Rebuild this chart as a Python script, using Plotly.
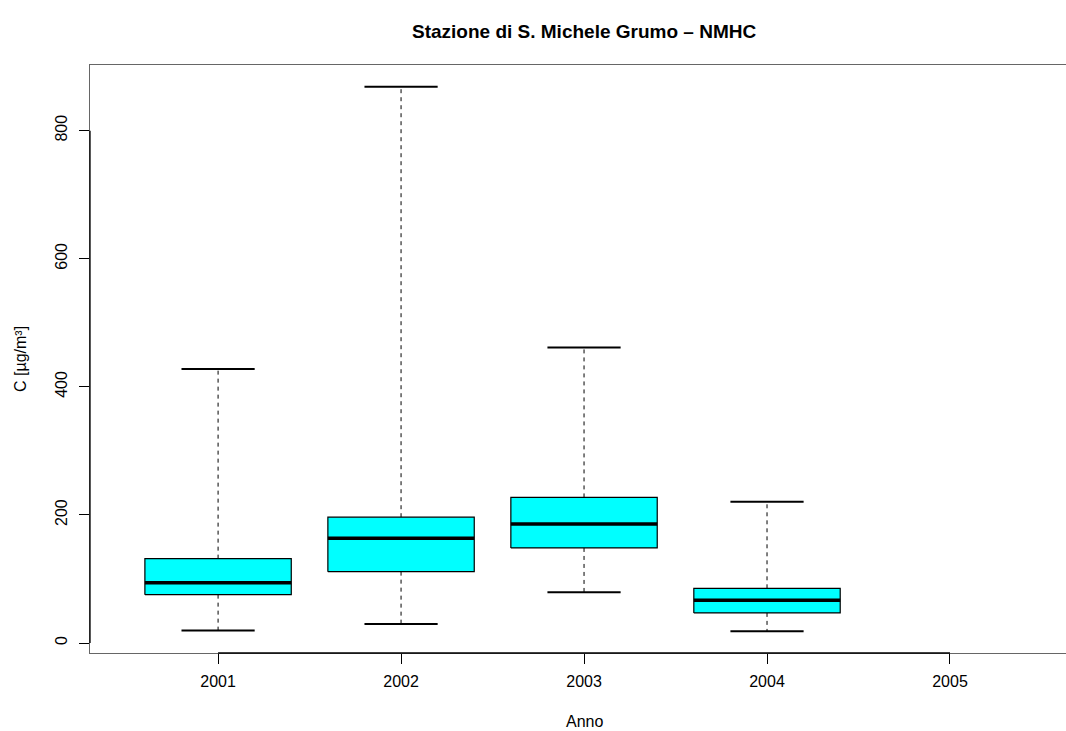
import plotly.graph_objects as go

# ---- data ----
years = ["2001", "2002", "2003", "2004", "2005"]
lower_whisker = [19.5, 29.6, 79.2, 18.4, None]
q1 = [75.6, 111.5, 148.5, 47.1, None]
median = [94.3, 163.7, 185.9, 66.7, None]
q3 = [131.8, 196.5, 227.4, 85.5, None]
upper_whisker = [428.0, 868.6, 461.3, 220.7, None]

title_text = "Stazione di S. Michele Grumo – NMHC"
x_title = "Anno"
y_title = "C [µg/m³]"
y_ticks = [0, 200, 400, 600, 800]

FONT = "Liberation Sans, Arial, Helvetica, sans-serif"
BOX_W = 0.8
CAP_W = 0.4

fig = go.Figure()
positions = list(range(1, len(years) + 1))

for pos, lo, a, m, b, hi in zip(positions, lower_whisker, q1, median, q3, upper_whisker):
    if m is None:
        continue
    # dashed whiskers
    fig.add_trace(go.Scatter(x=[pos, pos, None, pos, pos], y=[b, hi, None, a, lo],
                             mode="lines", line=dict(color="black", width=1, dash="4px,4px"),
                             hoverinfo="skip", showlegend=False))
    # caps
    fig.add_trace(go.Scatter(x=[pos - CAP_W / 2, pos + CAP_W / 2, None, pos - CAP_W / 2, pos + CAP_W / 2],
                             y=[hi, hi, None, lo, lo],
                             mode="lines", line=dict(color="black", width=2),
                             hoverinfo="skip", showlegend=False))
    # box
    fig.add_trace(go.Scatter(x=[pos - BOX_W / 2, pos + BOX_W / 2, pos + BOX_W / 2, pos - BOX_W / 2, pos - BOX_W / 2],
                             y=[a, a, b, b, a], mode="lines", fill="toself", fillcolor="#00FFFF",
                             line=dict(color="black", width=1.2),
                             hoverinfo="skip", showlegend=False))
    # median
    fig.add_trace(go.Scatter(x=[pos - BOX_W / 2, pos + BOX_W / 2], y=[m, m], mode="lines",
                             line=dict(color="black", width=3.5),
                             hoverinfo="skip", showlegend=False))

# axis segments (R axis lines from first to last tick)
fig.add_shape(type="line", xref="x", yref="paper", x0=positions[0], x1=positions[-1], y0=0, y1=0,
              line=dict(color="black", width=1.3))
fig.add_shape(type="line", xref="paper", yref="y", x0=0, x1=0, y0=y_ticks[0], y1=y_ticks[-1],
              line=dict(color="black", width=1.3))

fig.update_layout(
    width=1066, height=731,
    margin=dict(l=90, r=0, t=65, b=78),
    plot_bgcolor="white", paper_bgcolor="white",
    font=dict(family=FONT, size=16, color="black"),
    showlegend=False,
    xaxis=dict(range=[0.3, 5.634], tickmode="array", tickvals=positions, ticktext=years,
               showgrid=False, zeroline=False, showline=True, mirror=True,
               linecolor="#666666", linewidth=1.2,
               ticks="outside", ticklen=10, tickwidth=1, tickcolor="black",
               tickfont=dict(size=16, family=FONT), ticklabelstandoff=4),
    yaxis=dict(range=[-15.5, 902.5], tickmode="array", tickvals=y_ticks,
               ticktext=[str(v) for v in y_ticks],
               showgrid=False, zeroline=False, showline=True, mirror=False,
               linecolor="#666666", linewidth=1.2,
               ticks="outside", ticklen=10, tickwidth=1, tickcolor="black",
               tickangle=-90, tickfont=dict(size=16, family=FONT), ticklabelstandoff=6),
    annotations=[
        dict(text="<b>" + title_text + "</b>", xref="x", x=3, yref="paper", y=(653 - 31) / 588,
             xanchor="center", yanchor="middle", showarrow=False, font=dict(size=19, family=FONT)),
        dict(text=x_title, xref="x", x=3, yref="paper", y=(653 - 721) / 588,
             xanchor="center", yanchor="middle", showarrow=False, font=dict(size=16, family=FONT)),
        dict(text=y_title, xref="paper", x=(20 - 90) / 976, yref="paper", y=0.5, textangle=-90,
             xanchor="center", yanchor="middle", showarrow=False, font=dict(size=16, family=FONT)),
    ],
)

fig.write_html(
    "out.html",
    config={"displayModeBar": False},
    post_script="document.body.style.margin='0';document.body.style.overflow='hidden';",
)
